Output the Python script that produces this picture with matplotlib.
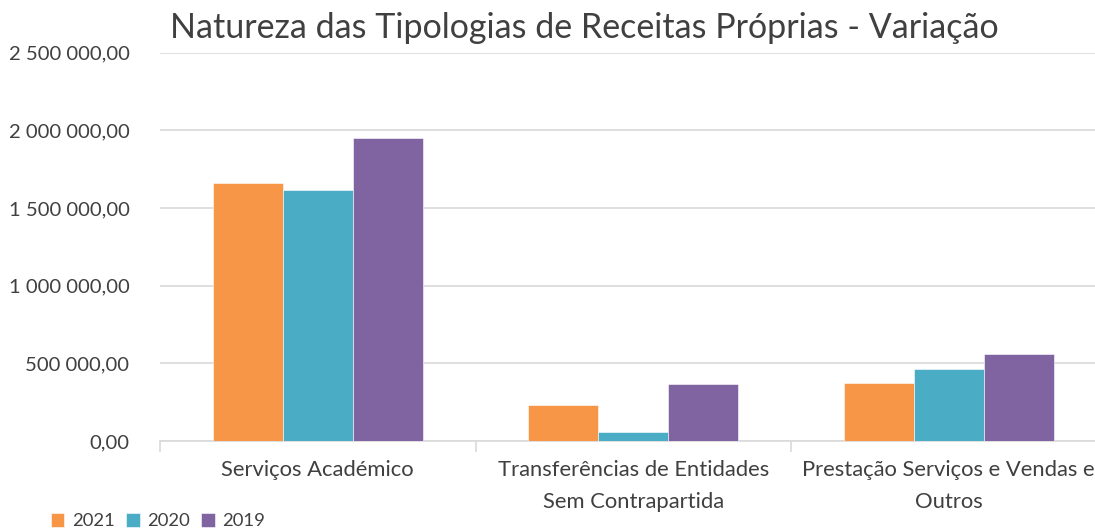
import matplotlib.pyplot as plt
from matplotlib.ticker import FuncFormatter, MultipleLocator
import numpy as np

plt.rcParams['font.family'] = ['Lato', 'DejaVu Sans']

categorias = ['Serviços Académico',
              'Transferências de Entidades\nSem Contrapartida',
              'Prestação Serviços e Vendas e\nOutros']
anos = ['2021', '2020', '2019']
v2021 = [1659000, 232000, 373000]
v2020 = [1614000, 56000, 461000]
v2019 = [1948000, 369000, 558000]
cores = ['#F79646', '#4BACC6', '#8064A2']

texto = '#404040'
grelha = '#D9D9D9'

fig = plt.figure(figsize=(10.95, 5.30), dpi=100)
ax = fig.add_axes([160 / 1095, 89 / 530, 946.5 / 1095, 388.5 / 530])

x = np.arange(len(categorias))
w = 2 / 9
for i, (vals, ano, cor) in enumerate(zip([v2021, v2020, v2019], anos, cores)):
    ax.bar(x + (i - 1) * w, vals, width=w, color=cor, label=ano,
           edgecolor='white', linewidth=0.4, zorder=3)

ax.set_xlim(-0.5, len(categorias) - 0.5)
ax.set_ylim(0, 2500000)
ax.yaxis.set_major_locator(MultipleLocator(500000))


def fmt(v, pos):
    s = f'{v:,.2f}'
    return s.replace(',', ' ').replace('.', ',')


ax.yaxis.set_major_formatter(FuncFormatter(fmt))
ax.grid(axis='y', color=grelha, linewidth=1.2, zorder=0)
ax.set_xticks(x)
ax.set_xticklabels(categorias, fontsize=15.8, color=texto, linespacing=1.7)
ax.set_xticks(np.arange(len(categorias) + 1) - 0.5, minor=True)
ax.tick_params(axis='x', which='major', length=0, pad=14)
ax.tick_params(axis='x', which='minor', length=8, color=grelha, width=1.2)
ax.tick_params(axis='y', length=0, labelsize=14.6, labelcolor=texto, pad=22)
for s in ['top', 'right', 'left']:
    ax.spines[s].set_visible(False)
ax.spines['bottom'].set_color(grelha)
ax.spines['bottom'].set_linewidth(1.2)

fig.text(0.534, 0.947, 'Natureza das Tipologias de Receitas Próprias - Variação',
         ha='center', va='center', fontsize=24.5, color=texto)

fig.legend(loc='lower left', bbox_to_anchor=(0.031, -0.03), ncol=3, frameon=False,
           fontsize=13.3, labelcolor=texto, handlelength=0.75, handleheight=0.75,
           handletextpad=0.4, columnspacing=0.6)

fig.savefig('out.png', dpi=100)
